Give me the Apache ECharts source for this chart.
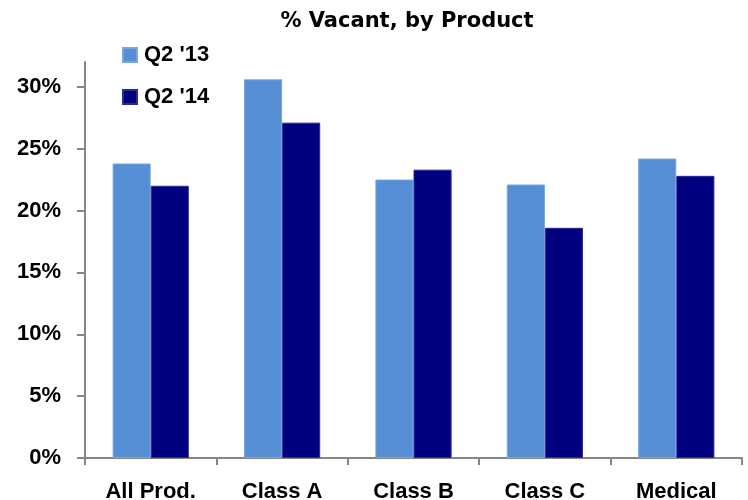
<!DOCTYPE html>
<html lang="en">
    <head>
        <meta charset="utf-8" />
        <title>% Vacant, by Product</title>
        <script src="https://cdn.jsdelivr.net/npm/echarts@6/dist/echarts.min.js"></script>
    </head>
    <body style="margin:0">
    <div id="chart" style="width: 748px;height:500px;"></div>
    <script type="text/javascript">
        // data
        const categories = ['All Prod.', 'Class A', 'Class B', 'Class C', 'Medical'];
        const q2_13 = [23.8, 30.6, 22.5, 22.1, 24.2];
        const q2_14 = [22.0, 27.1, 23.3, 18.6, 22.8];
        const yTicks = [0, 5, 10, 15, 20, 25, 30];

        const labelFont = '"Liberation Sans", Arial, sans-serif';
        const titleFont = '"DejaVu Sans", sans-serif';

        const myChart = echarts.init(document.getElementById('chart'));
        const option = {
            animation: false,
            title: {
                text: '% Vacant, by Product',
                left: 402,
                top: 6,
                textAlign: 'center',
                textStyle: {fontFamily: titleFont, fontSize: 21, fontWeight: 'bold', color: '#000'}
            },
            legend: {
                orient: 'vertical',
                left: 117,
                top: 39,
                itemWidth: 14,
                itemHeight: 14,
                itemGap: 20,
                icon: 'rect',
                textStyle: {fontFamily: labelFont, fontSize: 22, fontWeight: 'bold', color: '#000', padding: [0, 0, 0, 2]},
                data: ["Q2 '13", "Q2 '14"]
            },
            grid: {left: 85, right: 6, top: 62, bottom: 42, outerBoundsMode: 'none'},
            xAxis: {
                type: 'category',
                data: categories,
                axisLine: {lineStyle: {color: '#868686', width: 2}},
                axisTick: {show: true, length: 7, lineStyle: {color: '#868686', width: 2}},
                axisLabel: {margin: 23, fontFamily: labelFont, fontSize: 22, fontWeight: 'bold', color: '#000'}
            },
            yAxis: {
                type: 'value',
                min: 0,
                max: 32,
                axisLine: {show: true, lineStyle: {color: '#868686', width: 2}},
                axisTick: {show: true, length: 8, customValues: yTicks, lineStyle: {color: '#868686', width: 2}},
                splitLine: {show: false},
                axisLabel: {
                    customValues: yTicks,
                    margin: 24,
                    fontFamily: labelFont,
                    fontSize: 22,
                    fontWeight: 'bold',
                    color: '#000',
                    formatter: '{value}%'
                }
            },
            series: [
                {
                    name: "Q2 '13",
                    type: 'bar',
                    data: q2_13,
                    barGap: '0%',
                    barCategoryGap: '42%',
                    itemStyle: {color: '#558ed5', borderColor: '#7aa6de', borderWidth: 1}
                },
                {
                    name: "Q2 '14",
                    type: 'bar',
                    data: q2_14,
                    itemStyle: {color: '#000080', borderColor: '#2a2a9a', borderWidth: 1}
                }
            ]
        };
        myChart.setOption(option);
    </script>
    </body>
</html>
